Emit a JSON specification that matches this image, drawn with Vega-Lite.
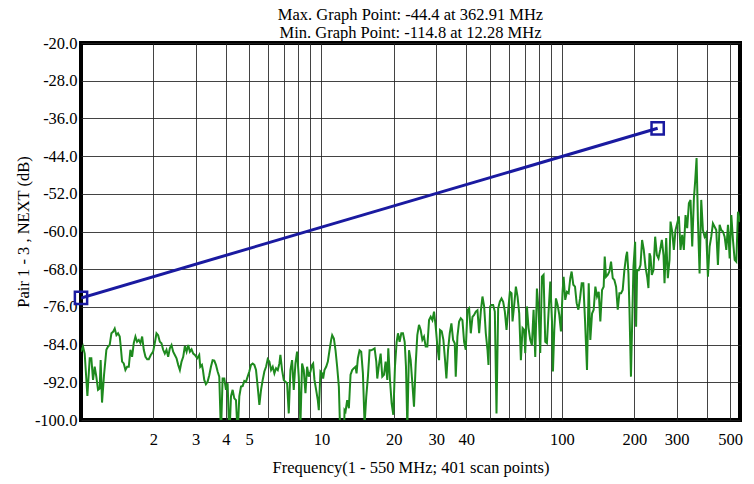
{
  "$schema": "https://vega.github.io/schema/vega-lite/v6.json",
  "autosize": {"type": "none"},
  "padding": {"left": 81, "top": 43, "right": 14, "bottom": 64},
  "width": 659,
  "height": 377,
  "background": "white",
  "title": {
    "text": ["Max. Graph Point: -44.4 at 362.91 MHz", "Min. Graph Point: -114.8 at 12.28 MHz"],
    "font": "Liberation Serif",
    "fontSize": 16.5,
    "fontWeight": "normal",
    "color": "black",
    "lineHeight": 18,
    "offset": -6,
    "anchor": "middle"
  },
  "config": {
    "view": {"stroke": "black", "strokeWidth": 4},
    "axis": {
      "labelFont": "Liberation Serif",
      "titleFont": "Liberation Serif",
      "labelColor": "black",
      "titleColor": "black",
      "titleFontWeight": "normal",
      "domain": false,
      "ticks": false,
      "gridColor": "#222222",
      "gridWidth": 1,
      "gridOpacity": 0.85
    }
  },
  "datasets": {
    "meas": [
      {"f": 1.0, "db": -85.5}, {"f": 1.019, "db": -84.4}, {"f": 1.036, "db": -85.9}, {"f": 1.063, "db": -94.9},
      {"f": 1.087, "db": -86.9}, {"f": 1.104, "db": -86.9}, {"f": 1.122, "db": -91.5}, {"f": 1.14, "db": -88.7},
      {"f": 1.158, "db": -90.8}, {"f": 1.177, "db": -93.6}, {"f": 1.196, "db": -93.3}, {"f": 1.207, "db": -87.3},
      {"f": 1.223, "db": -96.3}, {"f": 1.247, "db": -90.4}, {"f": 1.275, "db": -85.1}, {"f": 1.296, "db": -84.4},
      {"f": 1.316, "db": -84.1}, {"f": 1.338, "db": -81.6}, {"f": 1.359, "db": -81.3}, {"f": 1.381, "db": -80.6},
      {"f": 1.404, "db": -82.0}, {"f": 1.426, "db": -81.6}, {"f": 1.449, "db": -82.3}, {"f": 1.463, "db": -84.4},
      {"f": 1.482, "db": -87.6}, {"f": 1.506, "db": -88.0}, {"f": 1.53, "db": -89.4}, {"f": 1.555, "db": -88.7},
      {"f": 1.58, "db": -88.7}, {"f": 1.605, "db": -85.1}, {"f": 1.631, "db": -86.6}, {"f": 1.657, "db": -83.7},
      {"f": 1.684, "db": -82.3}, {"f": 1.711, "db": -83.4}, {"f": 1.739, "db": -83.0}, {"f": 1.767, "db": -83.7},
      {"f": 1.796, "db": -82.3}, {"f": 1.824, "db": -85.1}, {"f": 1.854, "db": -86.6}, {"f": 1.884, "db": -87.1},
      {"f": 1.914, "db": -87.1}, {"f": 1.951, "db": -86.2}, {"f": 1.995, "db": -85.5}, {"f": 2.027, "db": -83.7},
      {"f": 2.06, "db": -81.6}, {"f": 2.093, "db": -82.0}, {"f": 2.127, "db": -83.4}, {"f": 2.161, "db": -83.7},
      {"f": 2.196, "db": -85.1}, {"f": 2.231, "db": -85.9}, {"f": 2.267, "db": -85.1}, {"f": 2.304, "db": -86.6},
      {"f": 2.341, "db": -84.8}, {"f": 2.379, "db": -84.1}, {"f": 2.417, "db": -85.5}, {"f": 2.456, "db": -86.2},
      {"f": 2.496, "db": -86.9}, {"f": 2.536, "db": -88.3}, {"f": 2.577, "db": -89.4}, {"f": 2.619, "db": -87.6},
      {"f": 2.661, "db": -86.6}, {"f": 2.704, "db": -84.3}, {"f": 2.748, "db": -85.5}, {"f": 2.792, "db": -84.1},
      {"f": 2.837, "db": -85.5}, {"f": 2.883, "db": -85.0}, {"f": 2.929, "db": -85.9}, {"f": 2.976, "db": -86.2},
      {"f": 3.043, "db": -86.9}, {"f": 3.102, "db": -86.2}, {"f": 3.132, "db": -88.7}, {"f": 3.183, "db": -88.3},
      {"f": 3.214, "db": -89.4}, {"f": 3.255, "db": -91.5}, {"f": 3.307, "db": -92.4}, {"f": 3.36, "db": -91.9},
      {"f": 3.415, "db": -90.5}, {"f": 3.47, "db": -88.7}, {"f": 3.526, "db": -87.3}, {"f": 3.583, "db": -87.4},
      {"f": 3.64, "db": -88.3}, {"f": 3.699, "db": -89.7}, {"f": 3.758, "db": -90.8}, {"f": 3.819, "db": -103.0},
      {"f": 3.88, "db": -91.2}, {"f": 3.943, "db": -91.2}, {"f": 4.007, "db": -93.6}, {"f": 4.071, "db": -92.2},
      {"f": 4.137, "db": -104.0}, {"f": 4.204, "db": -95.0}, {"f": 4.271, "db": -93.6}, {"f": 4.34, "db": -95.4},
      {"f": 4.41, "db": -95.8}, {"f": 4.481, "db": -103.0}, {"f": 4.553, "db": -95.0}, {"f": 4.627, "db": -92.9},
      {"f": 4.701, "db": -92.8}, {"f": 4.777, "db": -91.7}, {"f": 4.854, "db": -91.9}, {"f": 4.932, "db": -90.8},
      {"f": 5.012, "db": -89.7}, {"f": 5.093, "db": -88.3}, {"f": 5.175, "db": -88.0}, {"f": 5.258, "db": -88.3},
      {"f": 5.343, "db": -89.4}, {"f": 5.429, "db": -92.9}, {"f": 5.517, "db": -96.8}, {"f": 5.606, "db": -93.6},
      {"f": 5.696, "db": -91.5}, {"f": 5.788, "db": -89.7}, {"f": 5.882, "db": -88.7}, {"f": 5.976, "db": -87.1},
      {"f": 6.073, "db": -87.6}, {"f": 6.171, "db": -89.4}, {"f": 6.27, "db": -88.7}, {"f": 6.371, "db": -90.1},
      {"f": 6.474, "db": -89.0}, {"f": 6.579, "db": -89.4}, {"f": 6.683, "db": -88.0}, {"f": 6.748, "db": -86.2},
      {"f": 6.857, "db": -89.4}, {"f": 6.968, "db": -91.5}, {"f": 7.079, "db": -91.9}, {"f": 7.194, "db": -92.2},
      {"f": 7.31, "db": -98.6}, {"f": 7.428, "db": -89.4}, {"f": 7.547, "db": -87.3}, {"f": 7.668, "db": -93.6},
      {"f": 7.792, "db": -88.0}, {"f": 7.917, "db": -85.5}, {"f": 8.044, "db": -90.8}, {"f": 8.175, "db": -101.0},
      {"f": 8.306, "db": -88.0}, {"f": 8.44, "db": -89.4}, {"f": 8.577, "db": -94.3}, {"f": 8.714, "db": -88.7},
      {"f": 8.855, "db": -90.8}, {"f": 8.999, "db": -89.7}, {"f": 9.144, "db": -88.3}, {"f": 9.233, "db": -88.0},
      {"f": 9.351, "db": -91.5}, {"f": 9.501, "db": -93.6}, {"f": 9.654, "db": -95.8}, {"f": 9.748, "db": -97.9},
      {"f": 9.904, "db": -89.7}, {"f": 10.06, "db": -90.1}, {"f": 10.16, "db": -91.2}, {"f": 10.29, "db": -89.4},
      {"f": 10.46, "db": -88.7}, {"f": 10.63, "db": -87.6}, {"f": 10.8, "db": -85.2}, {"f": 10.97, "db": -83.0},
      {"f": 11.08, "db": -82.0}, {"f": 11.26, "db": -82.7}, {"f": 11.44, "db": -85.2}, {"f": 11.62, "db": -88.7},
      {"f": 11.81, "db": -92.9}, {"f": 12.0, "db": -105.0}, {"f": 12.28, "db": -114.8}, {"f": 12.47, "db": -97.9},
      {"f": 12.59, "db": -98.2}, {"f": 12.79, "db": -95.8}, {"f": 13.0, "db": -97.5}, {"f": 13.21, "db": -90.4},
      {"f": 13.42, "db": -89.4}, {"f": 13.64, "db": -89.0}, {"f": 13.86, "db": -88.7}, {"f": 13.99, "db": -90.1},
      {"f": 14.17, "db": -86.9}, {"f": 14.4, "db": -85.2}, {"f": 14.63, "db": -85.5}, {"f": 14.87, "db": -90.1},
      {"f": 15.11, "db": -101.0}, {"f": 15.35, "db": -95.1}, {"f": 15.6, "db": -90.8}, {"f": 15.85, "db": -85.2},
      {"f": 16.1, "db": -85.2}, {"f": 16.37, "db": -85.0}, {"f": 16.63, "db": -84.8}, {"f": 16.9, "db": -87.6},
      {"f": 17.06, "db": -91.2}, {"f": 17.34, "db": -88.3}, {"f": 17.62, "db": -85.9}, {"f": 17.9, "db": -90.8},
      {"f": 18.19, "db": -90.4}, {"f": 18.48, "db": -87.6}, {"f": 18.78, "db": -91.5}, {"f": 18.96, "db": -84.8},
      {"f": 19.27, "db": -91.5}, {"f": 19.58, "db": -96.5}, {"f": 19.89, "db": -98.9}, {"f": 20.21, "db": -88.7},
      {"f": 20.54, "db": -83.4}, {"f": 20.8, "db": -81.6}, {"f": 21.13, "db": -83.4}, {"f": 21.48, "db": -81.6},
      {"f": 21.82, "db": -81.6}, {"f": 22.18, "db": -83.4}, {"f": 22.46, "db": -88.7}, {"f": 22.75, "db": -101.5},
      {"f": 23.12, "db": -85.2}, {"f": 23.49, "db": -87.3}, {"f": 23.87, "db": -92.2}, {"f": 24.25, "db": -97.2},
      {"f": 24.64, "db": -88.3}, {"f": 25.03, "db": -82.0}, {"f": 25.44, "db": -79.8}, {"f": 25.85, "db": -80.9},
      {"f": 26.27, "db": -83.0}, {"f": 26.69, "db": -82.3}, {"f": 27.12, "db": -84.4}, {"f": 27.56, "db": -84.4},
      {"f": 28.01, "db": -78.8}, {"f": 28.46, "db": -78.1}, {"f": 28.92, "db": -78.8}, {"f": 29.38, "db": -77.0},
      {"f": 29.85, "db": -80.2}, {"f": 30.34, "db": -84.4}, {"f": 30.83, "db": -87.3}, {"f": 31.12, "db": -80.9},
      {"f": 31.62, "db": -81.2}, {"f": 32.13, "db": -83.0}, {"f": 32.65, "db": -87.3}, {"f": 33.07, "db": -91.2},
      {"f": 33.6, "db": -85.1}, {"f": 34.15, "db": -81.6}, {"f": 34.7, "db": -79.5}, {"f": 35.26, "db": -83.0},
      {"f": 35.83, "db": -83.7}, {"f": 36.17, "db": -90.8}, {"f": 36.75, "db": -82.3}, {"f": 37.35, "db": -79.1},
      {"f": 37.95, "db": -78.4}, {"f": 38.56, "db": -78.8}, {"f": 39.18, "db": -83.4}, {"f": 39.81, "db": -85.1},
      {"f": 40.46, "db": -76.7}, {"f": 41.11, "db": -76.3}, {"f": 41.77, "db": -81.6}, {"f": 42.45, "db": -78.1},
      {"f": 43.13, "db": -77.7}, {"f": 43.83, "db": -77.0}, {"f": 44.53, "db": -76.7}, {"f": 45.25, "db": -81.6},
      {"f": 45.97, "db": -77.0}, {"f": 46.71, "db": -73.8}, {"f": 47.47, "db": -75.9}, {"f": 48.23, "db": -81.6},
      {"f": 49.01, "db": -85.1}, {"f": 49.48, "db": -88.3}, {"f": 50.28, "db": -75.9}, {"f": 50.93, "db": -75.6},
      {"f": 51.75, "db": -75.6}, {"f": 52.58, "db": -77.0}, {"f": 53.43, "db": -98.6}, {"f": 54.29, "db": -76.3},
      {"f": 55.17, "db": -74.9}, {"f": 56.06, "db": -74.2}, {"f": 56.96, "db": -74.9}, {"f": 57.88, "db": -77.0},
      {"f": 58.82, "db": -80.9}, {"f": 59.77, "db": -76.7}, {"f": 60.73, "db": -72.8}, {"f": 61.71, "db": -73.1},
      {"f": 62.3, "db": -79.1}, {"f": 63.3, "db": -75.6}, {"f": 64.33, "db": -71.7}, {"f": 65.36, "db": -73.8},
      {"f": 66.42, "db": -77.4}, {"f": 67.48, "db": -87.3}, {"f": 68.58, "db": -80.5}, {"f": 69.68, "db": -80.9},
      {"f": 70.35, "db": -85.8}, {"f": 71.49, "db": -75.9}, {"f": 72.63, "db": -80.5}, {"f": 73.81, "db": -83.0},
      {"f": 74.99, "db": -84.1}, {"f": 76.2, "db": -76.6}, {"f": 77.43, "db": -86.6}, {"f": 78.68, "db": -72.1},
      {"f": 79.93, "db": -76.6}, {"f": 81.22, "db": -85.8}, {"f": 82.54, "db": -69.6}, {"f": 83.86, "db": -69.2},
      {"f": 85.22, "db": -83.4}, {"f": 86.6, "db": -83.7}, {"f": 87.99, "db": -77.0}, {"f": 89.42, "db": -70.6},
      {"f": 90.86, "db": -78.8}, {"f": 91.73, "db": -89.7}, {"f": 92.91, "db": -80.9}, {"f": 94.41, "db": -74.2},
      {"f": 95.92, "db": -75.6}, {"f": 97.47, "db": -77.7}, {"f": 99.04, "db": -81.2}, {"f": 100.6, "db": -72.8},
      {"f": 101.6, "db": -69.6}, {"f": 103.2, "db": -74.5}, {"f": 104.9, "db": -72.8}, {"f": 106.6, "db": -73.1},
      {"f": 108.3, "db": -69.9}, {"f": 109.7, "db": -68.5}, {"f": 111.5, "db": -71.3}, {"f": 113.3, "db": -71.7},
      {"f": 115.1, "db": -75.2}, {"f": 117.0, "db": -76.6}, {"f": 118.9, "db": -74.2}, {"f": 120.8, "db": -71.0},
      {"f": 122.7, "db": -71.0}, {"f": 124.7, "db": -78.8}, {"f": 127.1, "db": -89.4}, {"f": 129.2, "db": -71.0},
      {"f": 131.2, "db": -83.0}, {"f": 133.4, "db": -77.4}, {"f": 135.5, "db": -76.6}, {"f": 137.7, "db": -71.7},
      {"f": 139.9, "db": -73.8}, {"f": 142.2, "db": -72.8}, {"f": 144.4, "db": -79.1}, {"f": 146.8, "db": -72.4},
      {"f": 149.1, "db": -71.7}, {"f": 150.6, "db": -65.3}, {"f": 152.5, "db": -69.6}, {"f": 155.0, "db": -69.2},
      {"f": 157.5, "db": -68.5}, {"f": 160.0, "db": -66.4}, {"f": 162.6, "db": -69.9}, {"f": 165.2, "db": -70.3},
      {"f": 167.9, "db": -71.7}, {"f": 170.6, "db": -76.6}, {"f": 173.3, "db": -73.1}, {"f": 176.1, "db": -73.1},
      {"f": 178.9, "db": -72.4}, {"f": 181.8, "db": -68.2}, {"f": 184.8, "db": -65.3}, {"f": 186.6, "db": -64.3},
      {"f": 189.0, "db": -68.9}, {"f": 190.8, "db": -76.3}, {"f": 193.6, "db": -90.8}, {"f": 198.3, "db": -67.5},
      {"f": 201.5, "db": -62.2}, {"f": 203.4, "db": -80.2}, {"f": 205.4, "db": -68.2}, {"f": 208.7, "db": -68.2},
      {"f": 212.1, "db": -67.1}, {"f": 215.4, "db": -61.8}, {"f": 218.9, "db": -63.9}, {"f": 222.5, "db": -67.5},
      {"f": 226.1, "db": -69.6}, {"f": 228.9, "db": -72.0}, {"f": 231.2, "db": -64.6}, {"f": 233.4, "db": -65.3},
      {"f": 236.4, "db": -69.2}, {"f": 240.2, "db": -68.2}, {"f": 244.1, "db": -61.1}, {"f": 248.1, "db": -65.0},
      {"f": 252.0, "db": -65.7}, {"f": 256.1, "db": -63.9}, {"f": 260.2, "db": -61.8}, {"f": 264.4, "db": -65.0},
      {"f": 267.0, "db": -71.0}, {"f": 271.3, "db": -61.4}, {"f": 275.6, "db": -69.9}, {"f": 280.1, "db": -66.0},
      {"f": 282.8, "db": -57.9}, {"f": 287.3, "db": -60.0}, {"f": 291.9, "db": -63.9}, {"f": 296.6, "db": -59.7},
      {"f": 301.4, "db": -58.3}, {"f": 306.3, "db": -56.8}, {"f": 311.2, "db": -63.9}, {"f": 316.2, "db": -60.7},
      {"f": 321.3, "db": -63.9}, {"f": 326.5, "db": -56.5}, {"f": 331.7, "db": -59.3}, {"f": 337.1, "db": -54.0},
      {"f": 342.5, "db": -53.3}, {"f": 348.1, "db": -63.2}, {"f": 353.7, "db": -53.0}, {"f": 358.3, "db": -49.1},
      {"f": 362.91, "db": -44.4}, {"f": 367.6, "db": -57.6}, {"f": 373.5, "db": -68.9}, {"f": 379.5, "db": -53.3},
      {"f": 385.6, "db": -59.7}, {"f": 391.8, "db": -61.1}, {"f": 398.1, "db": -60.4}, {"f": 404.5, "db": -69.6},
      {"f": 411.1, "db": -63.2}, {"f": 417.7, "db": -61.1}, {"f": 424.4, "db": -58.3}, {"f": 431.2, "db": -59.0},
      {"f": 438.2, "db": -59.7}, {"f": 445.2, "db": -67.1}, {"f": 452.5, "db": -58.6}, {"f": 459.7, "db": -59.7},
      {"f": 467.1, "db": -60.0}, {"f": 474.7, "db": -61.1}, {"f": 482.4, "db": -63.9}, {"f": 490.1, "db": -58.6},
      {"f": 498.1, "db": -65.7}, {"f": 506.1, "db": -56.5}, {"f": 514.2, "db": -61.8}, {"f": 522.5, "db": -66.0},
      {"f": 530.9, "db": -66.4}, {"f": 539.6, "db": -55.8}, {"f": 548.2, "db": -57.6}, {"f": 550.0, "db": -58.0}
    ],
    "limit": [
      {"f": 1.0, "db": -74.1},
      {"f": 250.0, "db": -38.1}
    ]
  },
  "encoding": {
    "x": {
      "field": "f",
      "type": "quantitative",
      "scale": {"type": "log", "domain": [1, 550], "nice": false},
      "axis": {
        "title": "Frequency(1 - 550 MHz; 401 scan points)",
        "titleFontSize": 16.5,
        "titlePadding": 12,
        "labelFontSize": 16.5,
        "labelPadding": 11,
        "values": [2, 3, 4, 5, 6, 7, 8, 9, 10, 20, 30, 40, 50, 60, 70, 80, 90, 100, 200, 300, 400, 500],
        "labelExpr": "indexof([2,3,4,5,10,20,30,40,100,200,300,500], datum.value) >= 0 ? datum.label : ''",
        "format": "d",
        "labelFlush": false,
        "grid": true
      }
    },
    "y": {
      "field": "db",
      "type": "quantitative",
      "scale": {"domain": [-100, -20], "nice": false, "zero": false},
      "axis": {
        "title": "Pair 1 - 3 , NEXT (dB)",
        "titleFontSize": 16.5,
        "titlePadding": 3,
        "labelFontSize": 16.5,
        "labelPadding": 4,
        "values": [-100, -92, -84, -76, -68, -60, -52, -44, -36, -28, -20],
        "labelExpr": "(datum.value < 0 ? '-' : '') + format(abs(datum.value), '.1f')",
        "grid": true
      }
    }
  },
  "layer": [
    {
      "data": {"name": "meas"},
      "mark": {"type": "line", "color": "#1e8a1e", "strokeWidth": 2, "clip": true}
    },
    {
      "data": {"name": "limit"},
      "mark": {"type": "line", "color": "#1a1aa0", "strokeWidth": 3, "clip": true}
    },
    {
      "data": {"name": "limit"},
      "mark": {"type": "point", "shape": "square", "size": 150, "filled": false, "color": "#1a1aa0", "strokeWidth": 2.5, "opacity": 1}
    }
  ]
}
